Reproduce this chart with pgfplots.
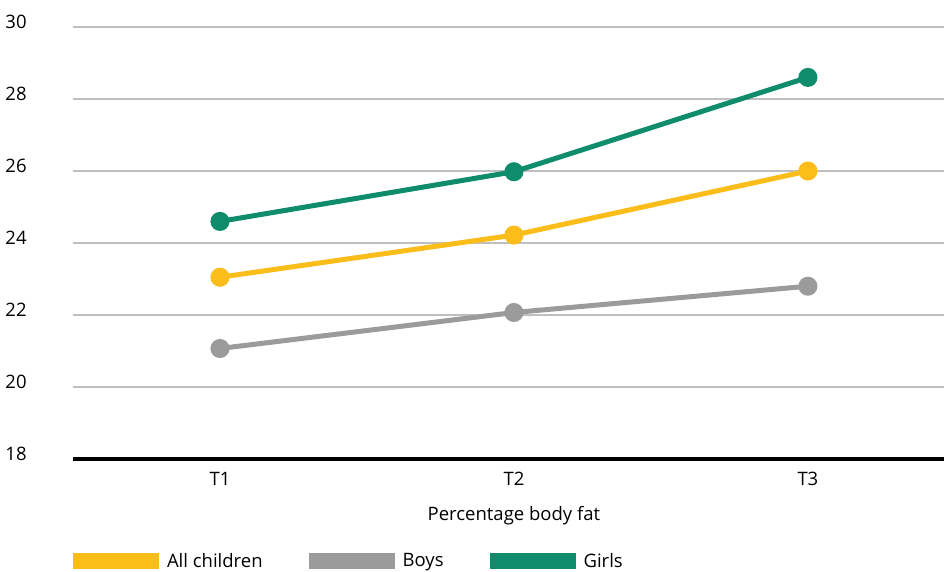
\documentclass[border=0pt]{standalone}
\usepackage{fontspec}
\setmainfont{Open Sans}
\usepackage{pgfplots}
\pgfplotsset{compat=1.18}
\definecolor{cyel}{RGB}{251,189,26}
\definecolor{cgry}{RGB}{155,155,155}
\definecolor{cgrn}{RGB}{14,140,108}
\definecolor{cgrid}{RGB}{191,191,191}
\begin{document}
\fontsize{18.5pt}{22pt}\selectfont
\begin{tikzpicture}
\begin{axis}[
  scale only axis,
  width=871pt, height=432pt,
  xmin=-0.5, xmax=2.463,
  ymin=18, ymax=30,
  axis x line*=bottom,
  axis y line*=left,
  y axis line style={draw=none},
  x axis line style={line width=4pt, black, -},
  xtick={0,1,2},
  xticklabels={T1,T2,T3},
  tick style={draw=none},
  ytick={18,20,22,24,26,28,30},
  ymajorgrids,
  grid style={cgrid, line width=1.5pt},
  yticklabel style={anchor=east, xshift=-40pt, yshift=5pt},
  xticklabel style={yshift=-7pt},
  every tick label/.append style={font=\fontsize{18.5pt}{22pt}\selectfont},
  /pgf/number format/assume math mode=true,
  xlabel={Percentage body fat},
  xlabel style={at={(axis cs:1,18)}, anchor=north, yshift=-41pt},
  label style={font=\fontsize{18.5pt}{22pt}\selectfont},
  legend columns=3,
  legend style={at={(axis cs:-0.5,18)}, anchor=north west, yshift=-92pt,
    draw=none, fill=none, inner sep=0pt, outer sep=0pt,
    font=\fontsize{18.5pt}{22pt}\selectfont,
    /tikz/every odd column/.append style={column sep=6pt},
    /tikz/every even column/.append style={column sep=44pt}},
  legend cell align=left,
  legend image code/.code={\fill[draw=none,#1] (0pt,-8pt) rectangle (86pt,8pt);},
  clip=false,
]
\addplot[cyel, line width=5pt, mark=*, mark size=7pt] coordinates {(0,23.05) (1,24.22) (2,26.0)};
\addlegendentry{All children}
\addplot[cgry, line width=5pt, mark=*, mark size=7pt] coordinates {(0,21.07) (1,22.07) (2,22.8)};
\addlegendentry{Boys}
\addplot[cgrn, line width=5pt, mark=*, mark size=7pt] coordinates {(0,24.6) (1,25.98) (2,28.6)};
\addlegendentry{Girls}
\draw[cgrid, line width=1pt] (axis cs:0.5,18) ++(0,-2pt) -- ++(0,4pt);
\draw[cgrid, line width=1pt] (axis cs:1.5,18) ++(0,-2pt) -- ++(0,4pt);
\end{axis}
\pgfresetboundingbox
\path[use as bounding box] (-73pt,-112pt) rectangle (871pt,459pt);
\end{tikzpicture}
\end{document}
